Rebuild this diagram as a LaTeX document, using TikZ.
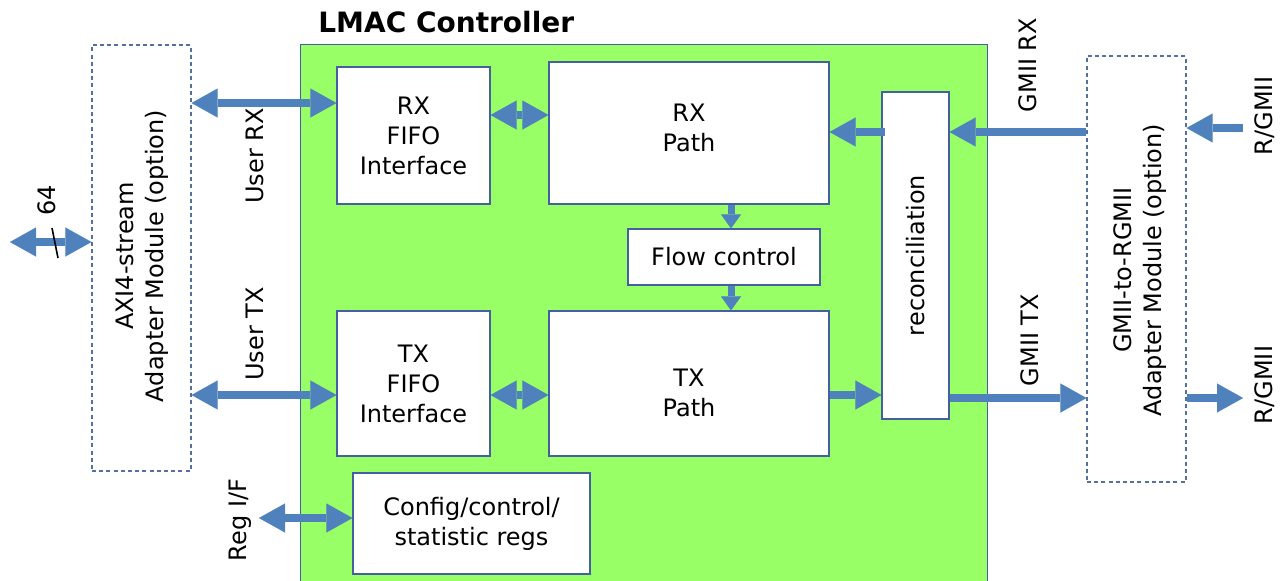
\documentclass[tikz,border=0pt]{standalone}
\usepackage{fontspec}
\setmainfont{DejaVu Sans}
\usetikzlibrary{arrows.meta}
\definecolor{lmacgreen}{RGB}{153,255,102}
\definecolor{busblue}{RGB}{79,129,189}
\definecolor{edgeblue}{RGB}{68,96,160}
\definecolor{dashblue}{RGB}{84,112,160}
\tikzset{
  txt/.style={font=\fontsize{12}{15}\selectfont, align=center, inner sep=0pt, text=black},
  block/.style={txt, draw=edgeblue, line width=0.6pt, fill=white},
  dashbox/.style={draw=dashblue, line width=0.6pt, dash pattern=on 2pt off 1.6pt, inner sep=0pt},
  vlabel/.style={txt, rotate=90},
  bus/.style={draw=busblue, line width=3.75pt, -{Triangle[width=14.5pt,length=13pt,line width=0.01pt]}},
  dbus/.style={draw=busblue, line width=3.75pt,
    {Triangle[width=14.5pt,length=13pt,line width=0.01pt]}-{Triangle[width=14.5pt,length=13pt,line width=0.01pt]}},
  sbus/.style={draw=busblue, line width=3.5pt, -{Triangle[width=10pt,length=7pt,line width=0.01pt]}},
}
\begin{document}
\begin{tikzpicture}[x=0.5pt, y=-0.5pt]
\useasboundingbox (0,0) rectangle (1284,580);

% controller area
\node[fill=lmacgreen, minimum width=343pt, minimum height=268pt, inner sep=0pt] (lmac) at (644,313) {};
\draw[edgeblue, line width=0.6pt] (lmac.south west) -- (lmac.north west) -- (lmac.north east) -- (lmac.south east);
\node[font=\bfseries\fontsize{14}{16}\selectfont, anchor=west, inner sep=0pt] (title) at (318,22) {LMAC Controller};

% adapter modules
\node[dashbox, minimum width=49.5pt, minimum height=213pt] (axi) at (141.5,258) {};
\node[vlabel] (axitext) at (142,256) {AXI4-stream\\Adapter Module (option)};
\node[dashbox, minimum width=49.5pt, minimum height=213pt] (gmii) at (1136.5,269) {};
\node[vlabel] (gmiitext) at (1140,270) {GMII-to-RGMII\\Adapter Module (option)};

% internal blocks
\node[block, minimum width=76.5pt, minimum height=68.5pt] (rxfifo) at (413.5,135.5) {RX\\FIFO\\Interface};
\node[block, minimum width=140pt, minimum height=71pt] (rxpath) at (689,133) {};
\node[txt] (rxpathtext) at (689,128) {RX\\Path};
\node[block, minimum width=96pt, minimum height=28pt] (flow) at (724,257) {Flow control};
\node[block, minimum width=76.5pt, minimum height=72.5pt] (txfifo) at (413.5,383.5) {TX\\FIFO\\Interface};
\node[block, minimum width=140pt, minimum height=72.5pt] (txpath) at (689,383.5) {};
\node[txt] (txpathtext) at (689,393) {TX\\Path};
\node[block, minimum width=33.5pt, minimum height=163.5pt] (recon) at (915.5,255.5) {};
\node[vlabel] (recontext) at (915.5,255.5) {reconciliation};
\node[block, minimum width=118.5pt, minimum height=50.5pt] (cfg) at (471.5,523.5) {Config/control/\\statistic regs};

% helper levels for the horizontal buses
\coordinate (yurx) at (0,103);
\coordinate (yutx) at (0,395);
\coordinate (yrxff) at (0,115);
\coordinate (yrxin) at (0,132);
\coordinate (ytxr) at (0,395);
\coordinate (ytxo) at (0,398);
\coordinate (xflow) at (731,0);
\coordinate (ext64) at (10,242);
\coordinate (rgin) at (1243,128);
\coordinate (rgout) at (1243,398);
\coordinate (regext) at (259,518);

% buses
\draw[dbus] (ext64) -- (axi.west |- ext64);
\draw[black, line width=0.8pt] (52,228) -- (58,258);
\node[vlabel] (w64) at (47,200) {64};

\draw[dbus] (axi.east |- yurx) -- (rxfifo.west |- yurx);
\draw[dbus] (axi.east |- yutx) -- (txfifo.west |- yutx);
\draw[dbus] (rxfifo.east |- yrxff) -- (rxpath.west |- yrxff);
\draw[dbus] (txfifo.east |- ytxr) -- (txpath.west |- ytxr);
\draw[sbus] (xflow |- rxpath.south) -- (xflow |- flow.north);
\draw[sbus] (xflow |- flow.south) -- (xflow |- txpath.north);
\draw[bus] ([xshift=2pt]recon.west |- yrxin) -- (rxpath.east |- yrxin);
\draw[bus] (gmii.west |- yrxin) -- (recon.east |- yrxin);
\draw[bus] (txpath.east |- ytxr) -- (recon.west |- ytxr);
\draw[bus] (recon.east |- ytxo) -- (gmii.west |- ytxo);
\draw[bus] (rgin) -- (gmii.east |- rgin);
\draw[bus] (gmii.east |- rgout) -- (rgout);
\draw[dbus] (regext) -- (cfg.west |- regext);

% bus labels
\node[vlabel] (lurx) at (255,156) {User RX};
\node[vlabel] (lutx) at (255,334) {User TX};
\node[vlabel] (lgrx) at (1028,65) {GMII RX};
\node[vlabel] (lgtx) at (1030,340) {GMII TX};
\node[vlabel] (lrgin) at (1265,116) {R/GMII};
\node[vlabel] (lrgout) at (1265,385) {R/GMII};
\node[vlabel] (lreg) at (240,520) {Reg I/F};
\end{tikzpicture}
\end{document}
